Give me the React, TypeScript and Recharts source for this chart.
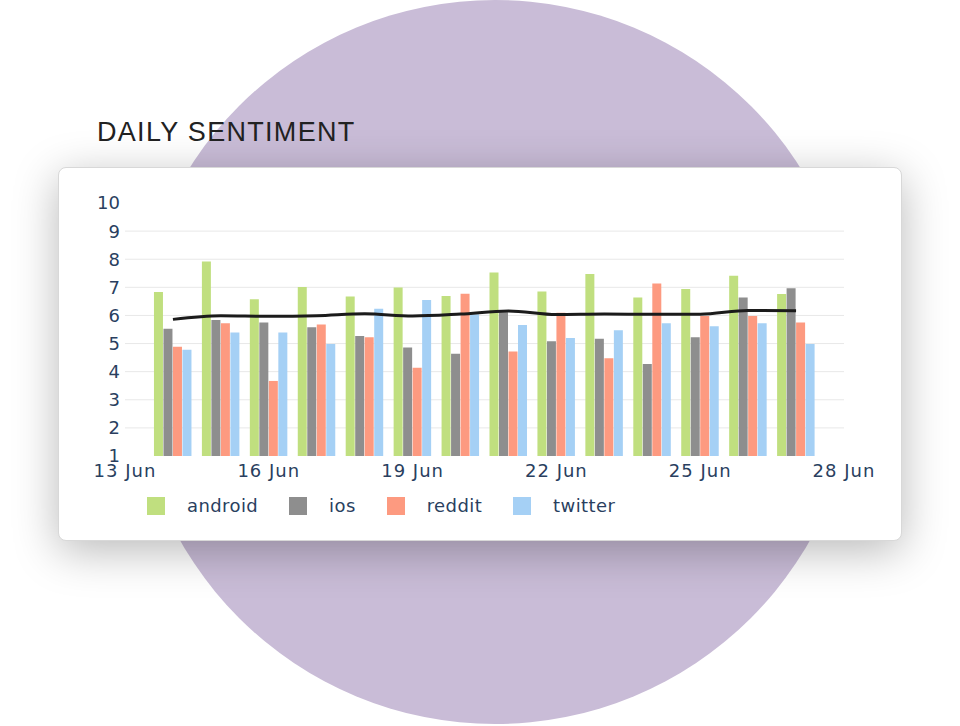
import React from "react";
import {
  ComposedChart,
  Bar,
  Line,
  XAxis,
  YAxis,
  CartesianGrid,
} from "recharts";

const days = [14, 15, 16, 17, 18, 19, 20, 21, 22, 23, 24, 25, 26, 27];
const android = [6.83, 7.92, 6.58, 7.01, 6.67, 6.99, 6.69, 7.53, 6.85, 7.47, 6.64, 6.94, 7.41, 6.76];
const ios = [5.53, 5.84, 5.75, 5.58, 5.27, 4.86, 4.64, 6.11, 5.08, 5.17, 4.27, 5.22, 6.64, 6.97];
const reddit = [4.89, 5.72, 3.67, 5.68, 5.22, 4.14, 6.77, 4.72, 6.1, 4.48, 7.14, 5.98, 5.98, 5.75];
const twitter = [4.78, 5.39, 5.39, 4.98, 6.24, 6.55, 6.04, 5.66, 5.2, 5.47, 5.72, 5.62, 5.72, 4.98];
const average = [5.86, 5.99, 5.97, 5.99, 6.06, 5.98, 6.05, 6.16, 6.03, 6.05, 6.04, 6.04, 6.18, 6.17];

const xTicks = [13, 16, 19, 22, 25, 28];
const yTicks = [1, 2, 3, 4, 5, 6, 7, 8, 9, 10];
const gridValues = [2, 3, 4, 5, 6, 7, 8, 9];

const series = [
  { key: "android", color: "#c0df7f" },
  { key: "ios", color: "#8e8e8e" },
  { key: "reddit", color: "#fd9a80" },
  { key: "twitter", color: "#a5d0f5" },
];

const data = days.map((d, i) => ({
  day: d,
  android: android[i],
  ios: ios[i],
  reddit: reddit[i],
  twitter: twitter[i],
  avg: average[i],
}));

const yTickStyle = { fill: "#2a3f5f", fontSize: 18, fontFamily: "DejaVu Sans" };
const xTickStyle = { ...yTickStyle, letterSpacing: 1 };

export default function App() {
  return (
    <div
      style={{
        position: "absolute",
        left: 0,
        top: 0,
        width: 960,
        height: 726,
        overflow: "hidden",
        background: "#ffffff",
      }}
    >
      {/* purple backdrop */}
      <div
        style={{
          position: "absolute",
          left: 495 - 362,
          top: 0,
          width: 724,
          height: 724,
          borderRadius: "50%",
          background: "#c9bcd7",
        }}
      />
      <div
        style={{
          position: "absolute",
          left: 97,
          top: 114,
          fontFamily: "Liberation Sans, Arial, sans-serif",
          fontSize: 27,
          letterSpacing: 1.3,
          color: "#222",
          lineHeight: "36px",
        }}
      >
        DAILY SENTIMENT
      </div>
      <div
        style={{
          position: "absolute",
          left: 58,
          top: 167,
          width: 844,
          height: 374,
          boxSizing: "border-box",
          background: "#fff",
          border: "1px solid #d8d8d8",
          borderRadius: 8,
          boxShadow: "0 10px 45px rgba(0,0,0,0.28)",
        }}
      >
        <div style={{ position: "absolute", left: -1, top: 0 }}>
          <ComposedChart
            width={844}
            height={330}
            data={data}
            margin={{ top: 35, right: 58, left: 0, bottom: 0 }}
            barGap={0.5}
          >
            <CartesianGrid
              vertical={false}
              stroke="#e8e8e8"
              horizontalValues={gridValues}
            />
            <XAxis
              dataKey="day"
              type="number"
              domain={[13, 28]}
              ticks={xTicks}
              tickFormatter={(d) => `${d} Jun`}
              axisLine={false}
              tickLine={false}
              tick={xTickStyle}
              height={42}
              interval={0}
            />
            <YAxis
              domain={[1, 10]}
              ticks={yTicks}
              axisLine={false}
              tickLine={false}
              tickSize={3}
              tickMargin={2}
              tick={yTickStyle}
              width={67}
              interval={0}
            />
            {series.map((s) => (
              <Bar
                key={s.key}
                dataKey={s.key}
                fill={s.color}
                barSize={9}
                isAnimationActive={false}
              />
            ))}
            <Line
              type="monotone"
              dataKey="avg"
              stroke="#1b1b1b"
              strokeWidth={3}
              dot={false}
              isAnimationActive={false}
            />
          </ComposedChart>
        </div>
        {/* legend */}
        <div
          style={{
            position: "absolute",
            left: 88,
            top: 327,
            display: "flex",
            alignItems: "center",
            fontFamily: "DejaVu Sans",
            fontSize: 18,
            letterSpacing: 0.4,
            color: "#2a3f5f",
          }}
        >
          {series.map((s) => (
            <div
              key={s.key}
              style={{ display: "flex", alignItems: "center", marginRight: 31 }}
            >
              <div
                style={{ width: 18, height: 18, background: s.color, marginRight: 22 }}
              />
              <span>{s.key}</span>
            </div>
          ))}
        </div>
      </div>
    </div>
  );
}
